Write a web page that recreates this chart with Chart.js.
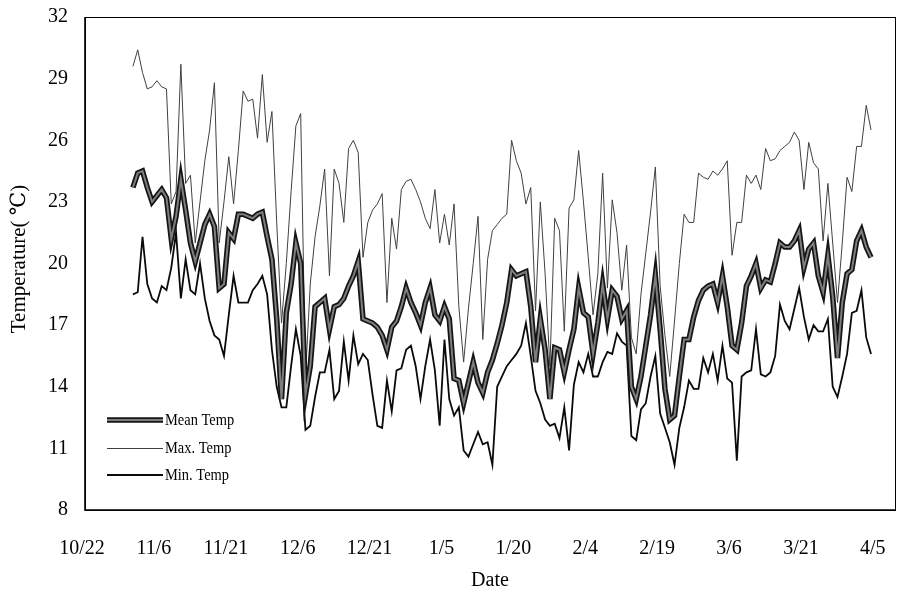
<!DOCTYPE html>
<html><head><meta charset="utf-8">
<script src="https://cdn.jsdelivr.net/npm/chart.js@4.4.1/dist/chart.umd.min.js"></script>
<style>html,body{margin:0;padding:0;background:#fff}#wrap{width:909px;height:592px;position:relative}</style>
</head><body><div id="wrap"><canvas id="c" width="909" height="592"></canvas></div>
<script>
// day index counted from 10/22; series start on 11/1
const startDay = 10;
const xTickDays = [0, 15, 30, 45, 60, 75, 90, 105, 120, 135, 150, 165];
const xTickLabels = ['10/22', '11/6', '11/21', '12/6', '12/21', '1/5', '1/20', '2/4', '2/19', '3/6', '3/21', '4/5'];
const yTicks = [8, 11, 14, 17, 20, 23, 26, 29, 32];
const seriesNames = ['Mean Temp', 'Max. Temp', 'Min. Temp'];
const xTitle = 'Date';
const yTitle = 'Temperature( \u2103)';

const meanTemp = [
23.7,24.4,24.5,23.7,23.0,23.3,23.6,23.2,21.2,22.3,
24.1,22.6,21.0,20.1,21.0,21.9,22.4,21.8,18.8,19.0,
21.5,21.2,22.4,22.4,22.3,22.2,22.4,22.5,21.3,20.2,
17.3,13.4,17.6,19.0,21.0,20.0,13.6,15.0,17.9,18.1,
18.3,16.8,17.9,18.0,18.3,18.9,19.4,20.1,17.3,17.2,
17.1,16.9,16.5,15.8,16.9,17.2,17.9,18.8,18.1,17.6,
17.0,18.1,18.8,17.5,17.2,17.9,17.3,14.4,14.3,13.2,
14.2,15.2,14.2,13.7,14.7,15.3,16.1,17.0,18.1,19.7,
19.4,19.5,19.6,17.9,15.2,17.3,15.8,13.4,15.9,15.8,
14.7,15.8,16.8,18.8,17.6,17.4,15.6,17.1,19.0,17.3,
18.7,18.4,17.3,17.7,14.0,13.4,14.5,16.0,17.5,19.4,
16.8,13.9,12.4,12.6,14.5,16.3,16.3,17.4,18.2,18.7,
18.9,19.0,18.1,19.4,17.9,16.0,15.8,17.1,18.9,19.4,
20.0,18.8,19.2,19.1,20.0,21.0,20.8,20.8,21.1,21.6,
19.8,20.7,21.0,19.4,18.6,20.4,18.4,15.4,18.1,19.5,
19.7,21.1,21.6,20.8,20.3
];
const maxTemp = [
29.6,30.4,29.3,28.5,28.6,28.9,28.6,28.5,22.9,23.5,
29.7,23.9,24.3,21.0,23.0,25.0,26.5,28.8,21.0,23.0,
25.2,22.9,25.5,28.4,27.9,28.0,26.1,29.2,25.9,27.4,
22.0,17.1,20.0,23.5,26.7,27.3,14.5,19.0,21.3,22.8,
24.6,19.4,24.6,23.9,22.0,25.6,26.0,25.4,20.3,22.0,
22.6,22.9,23.4,18.1,22.2,20.7,23.6,24.0,24.1,23.6,
23.0,22.2,21.7,23.6,21.0,22.4,20.9,22.9,17.9,15.2,
17.8,20.0,22.3,16.3,20.2,21.6,21.9,22.2,22.4,26.0,
25.0,24.4,22.9,23.7,17.7,23.0,19.5,15.0,22.2,21.6,
16.7,22.7,23.1,25.5,23.0,20.3,17.5,19.5,24.4,18.8,
23.1,21.5,18.7,20.9,16.4,15.6,18.5,20.5,22.5,24.7,
18.9,16.5,14.5,17.2,20.0,22.4,22.0,22.0,24.4,24.2,
24.1,24.5,24.3,24.6,25.0,20.4,22.0,22.0,24.3,23.9,
24.3,23.6,25.6,25.0,25.1,25.5,25.7,25.9,26.4,26.0,
23.6,25.9,24.9,24.6,21.1,23.9,21.0,18.1,21.0,24.2,
23.5,25.7,25.7,27.7,26.5
];
const minTemp = [
18.5,18.6,21.3,19.0,18.3,18.1,18.9,18.7,19.8,21.5,
18.3,20.2,18.7,18.5,20.0,18.3,17.2,16.5,16.3,15.5,
17.5,19.4,18.1,18.1,18.1,18.7,19.0,19.4,18.5,15.8,
14.0,13.0,13.0,15.0,16.8,15.5,11.9,12.1,13.5,14.7,
14.7,15.8,13.4,13.8,16.2,14.3,16.5,15.1,15.6,15.3,
13.6,12.1,12.0,14.3,12.8,14.8,14.9,15.8,16.0,15.0,
13.4,15.0,16.3,14.8,12.1,16.3,13.4,12.6,13.0,10.9,
10.6,11.2,11.8,11.2,11.3,10.2,14.0,14.5,15.0,15.3,
15.6,16.0,17.1,15.5,13.8,13.2,12.4,12.1,12.2,11.5,
13.0,10.9,14.1,15.2,14.7,15.6,14.5,14.5,15.2,15.7,
15.6,16.6,16.2,16.0,11.6,11.4,12.9,13.2,14.5,15.5,
12.7,12.0,11.3,10.2,12.0,13.0,14.3,13.9,13.9,15.4,
14.7,15.6,14.3,16.0,14.4,14.2,10.4,14.5,14.7,14.8,
16.8,14.6,14.5,14.7,15.5,18.0,17.2,16.8,17.8,18.8,
17.4,16.3,17.0,16.7,16.7,17.3,14.0,13.5,14.5,15.6,
17.6,17.7,18.7,16.4,15.6
];

const toPts = arr => arr.map((v, i) => ({x: startDay + i, y: v}));

const styles = {
  meanOuter: {color: '#151515', width: 5.5},
  meanInner: {color: '#7e7e7e', width: 2},
  max: {color: '#404040', width: 1},
  min: {color: '#0a0a0a', width: 1.8}
};

const serif = '"Liberation Serif", "DejaVu Serif", serif';

const framePlugin = {
  id: 'frame',
  afterDraw(chart) {
    const ctx = chart.ctx, a = chart.chartArea;
    ctx.save();
    ctx.strokeStyle = '#000';
    ctx.lineWidth = 1;
    ctx.strokeRect(Math.round(a.left) + 0.5, Math.round(a.top) + 0.5,
      Math.round(a.right - a.left), Math.round(a.bottom - a.top));
    ctx.lineWidth = 1.6;
    ctx.beginPath();
    ctx.moveTo(a.left, a.top); ctx.lineTo(a.left, a.bottom); ctx.lineTo(a.right, a.bottom);
    ctx.stroke();

    // axis titles
    ctx.fillStyle = '#000';
    ctx.font = '20px ' + serif;
    ctx.textAlign = 'center';
    ctx.textBaseline = 'middle';
    ctx.fillText(xTitle, 490, 581);
    ctx.save();
    ctx.translate(19, 259);
    ctx.rotate(-Math.PI / 2);
    ctx.font = '21px ' + serif;
    ctx.fillText(yTitle, 0, 0);
    ctx.restore();

    // legend
    const lx0 = 107, lx1 = 163, tx = 165;
    const rows = [420, 448, 475];
    ctx.lineCap = 'butt';
    ctx.beginPath(); ctx.strokeStyle = styles.meanOuter.color; ctx.lineWidth = styles.meanOuter.width;
    ctx.moveTo(lx0, rows[0]); ctx.lineTo(lx1, rows[0]); ctx.stroke();
    ctx.beginPath(); ctx.strokeStyle = styles.meanInner.color; ctx.lineWidth = styles.meanInner.width;
    ctx.moveTo(lx0, rows[0]); ctx.lineTo(lx1, rows[0]); ctx.stroke();
    ctx.beginPath(); ctx.strokeStyle = styles.max.color; ctx.lineWidth = styles.max.width;
    ctx.moveTo(lx0, rows[1] + 0.5); ctx.lineTo(lx1, rows[1] + 0.5); ctx.stroke();
    ctx.beginPath(); ctx.strokeStyle = styles.min.color; ctx.lineWidth = styles.min.width;
    ctx.moveTo(lx0, rows[2]); ctx.lineTo(lx1, rows[2]); ctx.stroke();

    ctx.font = '17px ' + serif;
    ctx.textAlign = 'left';
    ctx.textBaseline = 'middle';
    seriesNames.forEach((name, k) => {
      ctx.save();
      ctx.translate(tx, rows[k] + 1);
      ctx.scale(0.85, 1);
      ctx.fillText(name, 0, 0);
      ctx.restore();
    });
    ctx.restore();
  }
};

new Chart(document.getElementById('c'), {
  type: 'line',
  data: {
    datasets: [
      {label: seriesNames[0], data: toPts(meanTemp), borderColor: styles.meanInner.color, borderWidth: styles.meanInner.width, order: 0},
      {label: seriesNames[0] + ' outline', data: toPts(meanTemp), borderColor: styles.meanOuter.color, borderWidth: styles.meanOuter.width, order: 1},
      {label: seriesNames[2], data: toPts(minTemp), borderColor: styles.min.color, borderWidth: styles.min.width, order: 2},
      {label: seriesNames[1], data: toPts(maxTemp), borderColor: styles.max.color, borderWidth: styles.max.width, order: 3}
    ]
  },
  options: {
    responsive: false,
    animation: false,
    devicePixelRatio: 1,
    layout: {padding: {top: 17, right: 14, left: 0, bottom: 0}},
    elements: {
      point: {radius: 0, hoverRadius: 0},
      line: {tension: 0, fill: false, borderJoinStyle: 'miter', borderCapStyle: 'butt'}
    },
    plugins: {legend: {display: false}, tooltip: {enabled: false}, title: {display: false}},
    scales: {
      x: {
        type: 'linear',
        min: 0,
        max: 169,
        afterFit(s) { s.height = 82; s.paddingLeft = 0; s.paddingRight = 0; },
        afterBuildTicks(s) { s.ticks = xTickDays.map(v => ({value: v})); },
        grid: {display: false, drawTicks: false},
        border: {display: false},
        ticks: {
          autoSkip: false,
          maxRotation: 0,
          minRotation: 0,
          padding: 27,
          labelOffset: -3,
          color: '#000',
          font: {family: serif, size: 20},
          callback: (v) => xTickLabels[xTickDays.indexOf(v)]
        }
      },
      y: {
        min: 8,
        max: 32,
        afterFit(s) { s.width = 85; s.paddingTop = 0; s.paddingBottom = 0; },
        afterBuildTicks(s) { s.ticks = yTicks.map(v => ({value: v})); },
        grid: {display: false, drawTicks: false},
        border: {display: false},
        ticks: {
          padding: 17,
          color: '#000',
          font: {family: serif, size: 20},
          callback: (v) => String(v)
        }
      }
    }
  },
  plugins: [framePlugin]
});
</script>
</body></html>
